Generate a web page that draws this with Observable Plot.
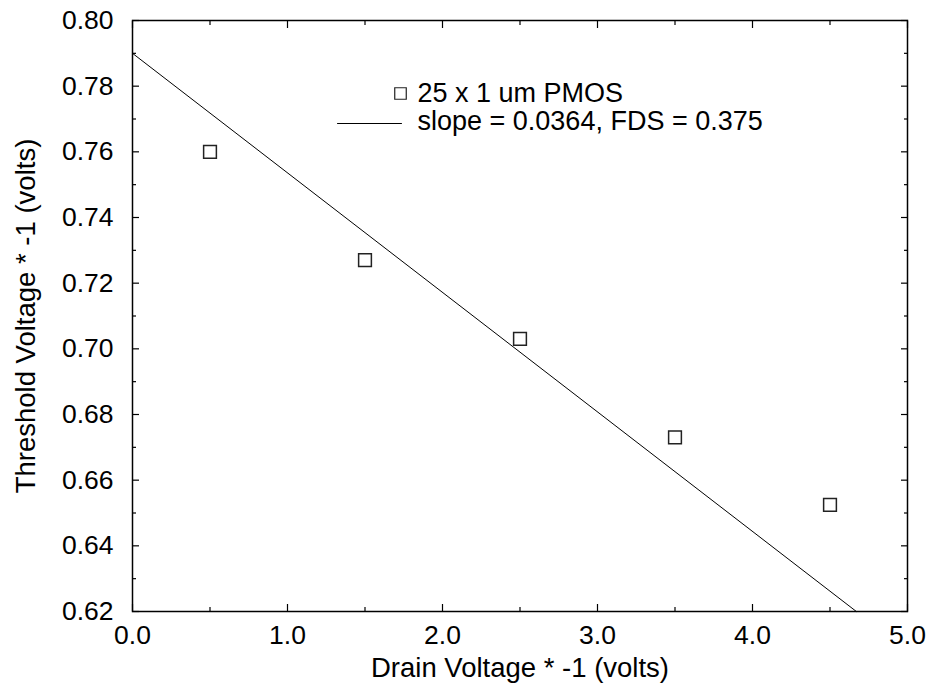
<!DOCTYPE html>
<html>
<head>
<meta charset="utf-8">
<script src="https://cdn.jsdelivr.net/npm/d3@7"></script>
<script src="https://cdn.jsdelivr.net/npm/@observablehq/plot@0.6"></script>
<style>
  html, body { margin: 0; padding: 0; background: #fff; }
</style>
</head>
<body>
<div id="chart"></div>
<script>
// Measured threshold voltages
const drainV = [0.5, 1.5, 2.5, 3.5, 4.5];
const thresholdV = [0.760, 0.727, 0.703, 0.673, 0.6525];
// Fitted line endpoints
const fitX = [0, 4.67];
const fitY = [0.790, 0.620];
// Axis ticks
const xMajor = [0, 1, 2, 3, 4, 5];
const xMinor = [0.5, 1.5, 2.5, 3.5, 4.5];
const yMajor = [0.62, 0.64, 0.66, 0.68, 0.70, 0.72, 0.74, 0.76, 0.78, 0.80];
const yMinor = [0.63, 0.65, 0.67, 0.69, 0.71, 0.73, 0.75, 0.77, 0.79];
// Texts
const xTitle = "Drain Voltage * -1 (volts)";
const yTitle = "Threshold Voltage * -1 (volts)";
const legendPoints = "25 x 1 um PMOS";
const legendLine = "slope = 0.0364, FDS = 0.375";

const points = drainV.map((x, i) => ({x, y: thresholdV[i]}));
const fit = fitX.map((x, i) => ({x, y: fitY[i]}));

const lineShape = {draw(context, l) { context.moveTo(0, 0); context.lineTo(0, -l); }};

const chart = Plot.plot({
  width: 932,
  height: 690,
  marginLeft: 132,
  marginTop: 20,
  marginRight: 25,
  marginBottom: 79,
  style: {fontFamily: "'Liberation Sans', Arial, Helvetica, sans-serif", fontSize: "26.5px", background: "#fff", color: "#000"},
  x: {domain: [0, 5]},
  y: {domain: [0.62, 0.80]},
  marks: [
    // tick labels
    Plot.axisX({ticks: xMajor, tickSize: 0, tickPadding: 14, tickFormat: d3.format(".1f"), label: null}),
    Plot.axisY({ticks: yMajor, tickSize: 0, tickPadding: 19, tickFormat: d3.format(".2f"), label: null}),
    // inward ticks on all sides
    Plot.axisX({anchor: "bottom", ticks: xMajor, tickSize: -7, fill: "none", label: null, strokeWidth: 1.2}),
    Plot.axisX({anchor: "bottom", ticks: xMinor, tickSize: -4, fill: "none", label: null, strokeWidth: 1.2}),
    Plot.axisX({anchor: "top", ticks: xMajor, tickSize: -7, fill: "none", label: null, strokeWidth: 1.2}),
    Plot.axisX({anchor: "top", ticks: xMinor, tickSize: -4, fill: "none", label: null, strokeWidth: 1.2}),
    Plot.axisY({anchor: "left", ticks: yMajor, tickSize: -7, fill: "none", label: null, strokeWidth: 1.2}),
    Plot.axisY({anchor: "left", ticks: yMinor, tickSize: -4, fill: "none", label: null, strokeWidth: 1.2}),
    Plot.axisY({anchor: "right", ticks: yMajor, tickSize: -7, fill: "none", label: null, strokeWidth: 1.2}),
    Plot.axisY({anchor: "right", ticks: yMinor, tickSize: -4, fill: "none", label: null, strokeWidth: 1.2}),
    Plot.frame({stroke: "#000", strokeWidth: 1.5}),
    // fit line
    Plot.line(fit, {x: "x", y: "y", stroke: "#000", strokeWidth: 1}),
    // data points
    Plot.dot(points, {x: "x", y: "y", symbol: "square", r: 7.2, stroke: "#222", strokeWidth: 1.5, fill: "none"}),
    // legend
    Plot.dot([legendPoints], {frameAnchor: "top-left", dx: 268, dy: 73, symbol: "square", r: 6.5, stroke: "#222", strokeWidth: 1.2, fill: "none"}),
    Plot.text([legendPoints], {frameAnchor: "top-left", dx: 285, dy: 73, text: d => d, textAnchor: "start", lineAnchor: "middle", fill: "#000", fontSize: 27}),
    Plot.vector([legendLine], {frameAnchor: "top-left", dx: 205, dy: 103, length: 64, rotate: 90, anchor: "start", shape: lineShape, stroke: "#000", strokeWidth: 1}),
    Plot.text([legendLine], {frameAnchor: "top-left", dx: 285, dy: 101, text: d => d, textAnchor: "start", lineAnchor: "middle", fill: "#000", fontSize: 27}),
    // axis titles
    Plot.text([xTitle], {frameAnchor: "bottom", dy: 57, text: d => d, textAnchor: "middle", lineAnchor: "middle", fill: "#000", fontSize: 27.5}),
    Plot.text([yTitle], {frameAnchor: "left", dx: -106, rotate: -90, text: d => d, textAnchor: "middle", lineAnchor: "middle", fill: "#000", fontSize: 27.5})
  ]
});
document.getElementById("chart").appendChild(chart);
</script>
</body>
</html>
